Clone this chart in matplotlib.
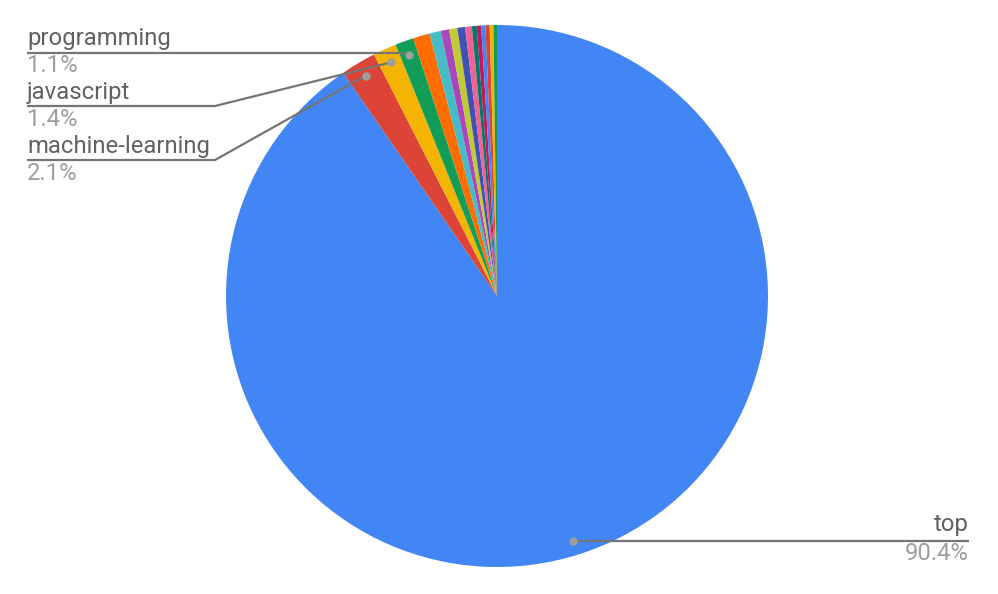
import numpy as np
import matplotlib
matplotlib.use("Agg")
import matplotlib.pyplot as plt

# ---- data (percent shares, clockwise from 12 o'clock) ----
names = ["top", "machine-learning", "javascript", "programming",
         "", "", "", "", "", "", "", "", "", "", "", ""]
values = [90.4, 2.1, 1.4, 1.1,
          1.0, 0.67, 0.5, 0.49, 0.46, 0.4, 0.28, 0.27, 0.25, 0.25, 0.22, 0.21]
pct_labels = ["90.4%", "2.1%", "1.4%", "1.1%"]
palette = ["#4285F4", "#DB4437", "#F4B400", "#0F9D58", "#FF6D01", "#46BDC6",
           "#AB47BC", "#C0CA33", "#3F51B5", "#F06292", "#00796B", "#C2185B"]
colors = [palette[i % len(palette)] for i in range(len(values))]

W, H = 998, 594
fig = plt.figure(figsize=(W / 100, H / 100), dpi=100)
ax = fig.add_axes([0, 0, 1, 1])

cx, cy, R = 497, H - 296, 271
wedges, _ = ax.pie(values, colors=colors, startangle=90, counterclock=False,
                   center=(cx, cy), radius=R, frame=True,
                   wedgeprops=dict(linewidth=0, antialiased=True))
ax.set_xlim(0, W)
ax.set_ylim(0, H)
ax.axis("off")

font = ["Roboto", "DejaVu Sans"]
name_c = "#616161"
pct_c = "#9E9E9E"
line_c = "#757575"
dot_c = "#9E9E9E"
fs = 17.2

def anchor(i):
    w = wedges[i]
    th = np.deg2rad((w.theta1 + w.theta2) / 2)
    r = 0.947 * R
    return cx + r * np.cos(th), cy + r * np.sin(th)

def Y(y):
    return H - y

# label layout: (index, polyline points (image coords), text x, name y, pct y, align)
layouts = [
    (3, [(27, 53), (400, 53)], 27, 38, 66, "left"),
    (2, [(27, 106), (215, 106)], 27, 92, 120, "left"),
    (1, [(27, 160), (215, 160)], 27, 146, 174, "left"),
    (0, None, 969, 525, 554, "right"),
]
for idx, pts, tx, ny, py, ha in layouts:
    axx, ayy = anchor(idx)
    if pts is not None:
        xs = [p[0] for p in pts] + [axx]
        ys = [Y(p[1]) for p in pts] + [ayy]
    else:
        xs = [axx, tx]
        ys = [ayy, ayy]
    ax.plot(xs, ys, color=line_c, lw=1.6, solid_capstyle="butt", zorder=5)
    ax.plot([axx], [ayy], "o", ms=6, color=dot_c, mec="none", zorder=6)
    ax.text(tx, Y(ny), names[idx], ha=ha, va="center", fontsize=fs,
            color=name_c, family=font)
    ax.text(tx, Y(py), pct_labels[idx], ha=ha, va="center", fontsize=fs,
            color=pct_c, family=font)

fig.savefig("out.png", dpi=100)
